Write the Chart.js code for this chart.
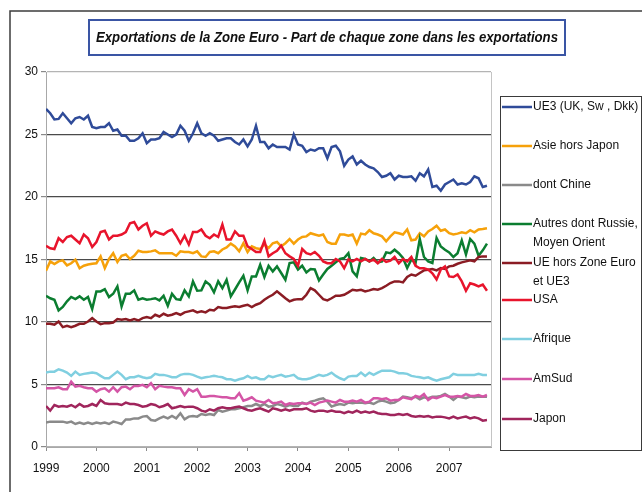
<!DOCTYPE html>
<html><head><meta charset="utf-8">
<script src="https://cdn.jsdelivr.net/npm/chart.js@4"></script>
<style>html,body{margin:0;padding:0;background:#fff}canvas{display:block}</style>
</head><body>
<canvas id="c" width="642" height="492"></canvas>
<script>
const chartTitle = "Exportations de la Zone Euro - Part de chaque zone dans les exportations";
const seriesNames = ["UE3 (UK, Sw , Dkk)", "Asie hors Japon", "dont Chine", "Autres dont Russie, Moyen Orient", "UE hors Zone Euro et UE3", "USA", "Afrique", "AmSud", "Japon"];
const legendLines = [["UE3 (UK, Sw , Dkk)"], ["Asie hors Japon"], ["dont Chine"], ["Autres dont Russie,", "Moyen Orient"], ["UE hors Zone Euro", "et UE3"], ["USA"], ["Afrique"], ["AmSud"], ["Japon"]];
const seriesColors = ["#2f4b99", "#f6a10a", "#8a8a8a", "#0b7d30", "#8b1c24", "#e8142c", "#80cfe0", "#d455a6", "#a0255c"];
const startYear = 1999;           // first monthly observation: January 1999
const yearTicks = [1999, 2000, 2001, 2002, 2003, 2004, 2005, 2006, 2007];
const yTicks = [0, 5, 10, 15, 20, 25, 30];

const ue3 = [27.05,26.7,26.2,26.25,26.7,26.3,25.9,26.3,26.4,26.2, 26.5,25.6,25.5,25.6,25.6,25.9,25.3,25.4,24.9,24.9,
 24.5,24.5,24.7,25.1,24.3,24.6,24.6,24.7,25.2,25.0, 24.8,25.0,25.7,25.3,24.5,25.1,25.9,25.1,24.9,25.1,
 24.9,24.5,24.6,24.7,24.7,24.4,
 24.2,24.6,24.05,24.6,25.7,24.4,24.4,23.9,24.2,24.0, 24.0,24.0,23.8,25.0,24.2,24.1,23.6,23.8,23.7,23.9,
 23.9,23.1,24.0,24.1,23.65,22.5,23.0,23.25,22.6,22.9, 22.6,22.4,22.3,22.0,21.6,21.7,21.9,21.4,21.7,21.6,
 21.6,21.65,21.3,21.9,21.65,22.2,20.8,20.9,20.5,21.0, 21.2,21.4,21.0,21.1,21.0,21.2,21.65,21.5,20.8,20.9];
const asie = [14.1,14.85,14.64,14.85,14.93,14.53,14.7,14.98,14.3,14.5, 14.6,14.66,14.7,15.25,14.3,15.04,15.5,14.8,15.3,15.4,
 15.04,15.3,15.7,15.6,15.6,15.65,15.73,15.5,15.5,15.5, 15.5,15.3,15.65,15.6,15.6,15.5,15.65,15.25,15.2,15.6,
 15.65,15.5,15.8,15.97,16.27,16.05,15.65,16.3,15.6,16.05, 15.9,
 15.84,16.2,15.92,16.3,16.4,16.05,16.3,16.64,16.27,16.6, 16.8,16.85,17.1,17.0,16.9,17.0,16.4,16.27,16.27,17.0,
 17.0,16.9,17.0,16.27,17.07,17.0,17.34,17.1,17.0,16.85, 16.45,16.85,17.17,17.1,17.0,17.4,16.54,16.6,17.1,16.85,
 17.25,17.44,17.7,17.3,17.4,17.1,17.0,17.07,17.17,17.1, 17.34,17.17,17.4,17.44,17.5];
const chine = [1.95,2.03,2.03,2.03,2.03,1.95,2.03,1.84,1.95,1.84, 1.95,1.84,1.95,1.89,1.95,1.84,2.03,1.95,1.84,2.21,
 2.21,2.29,2.29,2.43,2.48,2.16,2.11,2.29,2.43,2.29, 2.48,2.29,2.7,2.21,2.43,2.48,2.43,2.64,2.56,2.64,
 2.56,2.96,2.83,2.91,3.02,3.02,3.1,3.18,3.28,3.28, 3.44,
 3.28,3.44,3.23,3.28,3.44,3.36,3.23,3.36,3.28,3.28, 3.55,3.44,3.63,3.71,3.82,3.9,3.63,3.23,3.36,3.44,
 3.36,3.55,3.5,3.55,3.55,3.5,3.55,3.44,3.63,3.71, 3.63,3.5,3.55,3.76,4.03,3.98,3.9,4.03,3.82,3.98,
 3.9,4.03,4.03,4.08,4.24,4.03,3.76,4.03,3.98,3.9, 4.03,3.98,4.03,4.03,4.03];
const autres = [12.1,11.9,11.78,10.93,11.2,11.65,12.0,11.83,12.05,11.78, 12.0,11.03,12.45,12.45,12.63,12.0,12.26,12.85,11.25,12.26,
 12.26,12.53,11.78,11.9,11.78,11.83,11.9,11.73,12.1,11.3, 12.26,11.83,11.78,12.53,12.05,13.25,12.5,12.53,13.25,12.98,
 12.37,13.25,12.7,13.38,12.05,12.6,13.17,13.7,12.53,13.65, 13.65,
 14.58,13.6,14.5,14.05,14.45,13.92,13.38,14.72,14.77,14.2, 14.5,13.97,14.24,14.2,13.33,13.8,14.24,14.5,14.77,15.04,
 15.12,15.5,14.05,13.65,15.12,15.04,14.85,15.12,14.77,14.85, 15.57,15.5,15.78,15.5,15.12,14.32,15.0,14.72,16.64,15.2,
 14.85,14.72,16.72,16.05,15.78,15.57,15.2,15.5,16.53,15.4, 16.64,16.27,15.3,15.73,16.27];
const ueHors = [9.86,9.86,9.78,10.04,9.59,9.7,9.59,9.7,9.86,9.86, 10.04,10.31,10.04,9.83,9.91,9.91,9.96,10.23,10.18,10.23,
 10.12,10.23,10.12,10.31,10.39,10.31,10.58,10.44,10.66,10.5, 10.58,10.71,10.58,10.77,10.85,10.93,10.77,10.85,10.77,10.98,
 10.93,11.2,11.12,11.12,11.2,11.25,11.2,11.3,11.38,11.2, 11.38,
 11.5,11.78,12.0,12.18,12.45,12.18,11.9,11.65,11.78,11.83, 11.83,12.18,12.71,12.53,12.18,11.83,11.73,11.9,12.1,12.1,
 12.18,12.37,12.58,12.53,12.58,12.45,12.53,12.63,12.58,12.71, 12.9,13.12,13.25,13.25,13.17,13.6,13.8,13.7,13.92,14.13,
 14.18,14.24,14.13,14.32,14.24,14.45,14.5,14.66,14.77,14.85, 14.93,14.85,15.2,15.25,15.25];
const usa = [16.1,15.9,15.84,16.7,16.4,16.8,16.9,16.6,16.3,17.0, 16.7,16.0,16.4,17.2,17.3,16.6,16.9,16.9,17.0,17.2,
 17.9,18.0,17.4,17.7,17.9,16.9,17.25,17.1,17.0,17.25, 17.4,16.9,16.3,16.9,16.2,17.2,17.2,17.4,16.9,16.7,
 17.0,16.8,17.8,16.6,16.6,17.25,16.9,16.9,16.05,15.84, 15.6,
 15.6,16.5,15.25,15.5,15.7,16.1,15.5,15.25,15.04,14.5, 15.84,15.5,15.4,15.6,15.3,14.85,14.7,14.7,15.04,14.85,
 14.3,15.0,14.85,15.04,14.85,15.04,14.85,15.0,14.7,15.04, 14.8,14.9,15.2,14.7,15.04,14.85,15.2,14.5,14.3,14.3,
 14.2,13.9,13.4,14.2,14.45,13.65,13.6,13.8,13.25,12.5, 13.1,13.0,12.85,13.0,12.5];
const afrique = [5.95,6.03,6.03,6.22,6.11,5.95,5.69,6.03,5.77,5.85, 5.9,5.95,5.9,5.69,5.5,5.5,5.77,6.03,5.77,5.42,
 5.58,5.58,5.69,5.58,5.5,5.58,5.85,5.77,5.77,5.69, 5.58,5.58,5.77,5.85,5.85,5.77,5.63,5.5,5.58,5.63,
 5.69,5.63,5.58,5.42,5.42,5.31,5.42,5.5,5.69,5.5, 5.58,
 5.42,5.42,5.69,5.58,5.69,5.77,5.63,5.69,5.77,5.5, 5.42,5.42,5.5,5.63,5.77,5.69,5.77,5.95,5.69,5.5,
 5.37,5.63,5.69,5.69,5.95,5.69,5.95,5.77,5.95,6.11, 6.11,6.11,6.03,5.9,5.9,5.85,5.69,5.63,5.58,5.5,
 5.58,5.42,5.31,5.42,5.5,5.58,5.85,5.77,5.77,5.77, 5.77,5.77,5.85,5.77,5.77];
const amSud = [4.7,4.7,4.7,4.78,4.62,4.62,5.23,4.83,4.89,4.78, 4.7,4.7,4.43,4.62,4.7,4.43,4.78,4.43,4.78,4.83,
 4.62,4.89,4.89,4.97,4.78,5.1,4.62,4.89,4.83,4.78, 4.78,4.7,4.7,4.16,4.62,4.43,4.62,4.03,4.03,4.08,
 4.08,4.03,3.98,3.98,3.9,3.9,4.3,3.71,3.82,3.98, 3.71,
 3.63,3.55,3.76,3.5,3.55,3.63,3.36,3.5,3.44,3.5, 3.5,3.44,3.55,3.36,3.55,3.63,3.71,3.63,3.55,3.76,
 3.63,3.63,3.71,3.63,3.76,3.55,3.63,3.9,3.9,3.82, 3.9,3.71,3.76,3.76,3.98,3.9,3.82,4.08,3.98,4.24,
 3.76,3.98,3.9,4.03,4.16,4.03,4.03,4.08,4.03,4.24, 4.08,4.08,4.16,4.03,4.16];
const japon = [3.28,2.91,3.36,3.23,3.28,3.23,3.36,3.18,3.44,3.23, 3.28,3.44,3.28,3.76,3.5,3.44,3.44,3.44,3.36,3.55,
 3.44,3.44,3.36,3.23,3.28,3.44,3.36,3.18,3.28,3.44, 3.1,3.18,3.28,3.18,3.23,3.23,3.1,2.91,2.83,3.02,
 2.91,3.1,3.18,3.1,3.1,3.18,3.23,3.1,2.96,2.91, 3.02,
 3.1,2.96,2.83,3.1,3.02,2.91,3.02,2.91,3.02,3.02, 3.02,3.1,2.91,2.83,2.91,2.91,2.83,2.91,2.83,2.83,
 2.7,2.83,2.75,2.91,2.75,2.83,2.75,2.83,2.7,2.64, 2.64,2.56,2.56,2.64,2.56,2.64,2.48,2.43,2.48,2.43,
 2.48,2.37,2.43,2.43,2.37,2.29,2.43,2.29,2.37,2.43, 2.29,2.37,2.29,2.11,2.16];

const seriesValues = [ue3, asie, chine, autres, ueHors, usa, afrique, amSud, japon];
const FONT = '"Liberation Sans", Arial, sans-serif';

const decorPlugin = {
  id: 'decor',
  beforeDraw(chart) {
    const ctx = chart.ctx;
    ctx.save();
    ctx.fillStyle = '#fff';
    ctx.fillRect(0, 0, chart.width, chart.height);
    ctx.strokeStyle = '#3c3c3c';
    ctx.lineWidth = 1.5;
    ctx.beginPath();
    ctx.moveTo(10, chart.height + 5);
    ctx.lineTo(10, 11);
    ctx.lineTo(chart.width + 5, 11);
    ctx.stroke();
    ctx.restore();
  },
  afterDatasetsDraw(chart) {
    const ctx = chart.ctx, a = chart.chartArea;
    ctx.save();
    ctx.strokeStyle = '#c4c4c4';
    ctx.lineWidth = 1;
    ctx.beginPath();
    ctx.moveTo(Math.round(a.right) + 0.5, a.top);
    ctx.lineTo(Math.round(a.right) + 0.5, a.bottom);
    ctx.stroke();
    ctx.restore();
  },
  afterDraw(chart) {
    const ctx = chart.ctx;
    ctx.save();
    ctx.strokeStyle = '#3a55a4';
    ctx.lineWidth = 2;
    ctx.strokeRect(89, 20, 476, 35);
    ctx.fillStyle = '#111';
    ctx.font = 'italic bold 14px ' + FONT;
    ctx.textAlign = 'center';
    ctx.textBaseline = 'middle';
    ctx.fillText(chartTitle, 327, 38, 462);
    ctx.strokeStyle = '#3a3a3a';
    ctx.lineWidth = 1;
    ctx.strokeRect(500.5, 96.5, 141, 354);
    const itemY = [107, 146, 185, 224, 263, 300, 339, 379, 419];
    ctx.font = '12px ' + FONT;
    ctx.textAlign = 'left';
    legendLines.forEach((lines, k) => {
      const y = itemY[k];
      ctx.strokeStyle = seriesColors[k];
      ctx.lineWidth = 2.5;
      ctx.beginPath();
      ctx.moveTo(502, y);
      ctx.lineTo(532, y);
      ctx.stroke();
      ctx.fillStyle = '#111';
      lines.forEach((t, j) => ctx.fillText(t, 533, y + j * 18.5));
    });
    ctx.restore();
  }
};

new Chart(document.getElementById('c'), {
  type: 'line',
  data: {
    datasets: seriesNames.map((name, k) => ({
      label: name,
      data: seriesValues[k].map((v, i) => ({ x: startYear + i / 12, y: v })),
      borderColor: seriesColors[k],
      backgroundColor: seriesColors[k],
      borderWidth: 2.5,
      pointRadius: 0,
      tension: 0,
      fill: false,
      order: seriesNames.length - k
    }))
  },
  options: {
    responsive: false,
    animation: false,
    events: [],
    layout: { padding: { left: 0, top: 72, right: 151, bottom: 15 } },
    plugins: { legend: { display: false }, tooltip: { enabled: false }, title: { display: false } },
    scales: {
      x: {
        type: 'linear',
        min: 1999,
        max: 2007.83,
        afterBuildTicks: s => { s.ticks = yearTicks.map(v => ({ value: v })); },
        afterFit: s => { s.height = 30; },
        ticks: { callback: v => String(v), font: { family: FONT, size: 12 }, color: '#111', padding: 10, maxRotation: 0, autoSkip: false },
        grid: { drawOnChartArea: false, drawTicks: true, tickLength: 4, tickColor: '#8a8a8a' },
        border: { display: true, color: '#a8a8a8', width: 1 }
      },
      y: {
        min: 0,
        max: 30,
        afterBuildTicks: s => { s.ticks = yTicks.map(v => ({ value: v })); },
        afterFit: s => { s.width = 46; },
        ticks: { font: { family: FONT, size: 12 }, color: '#111', padding: 3 },
        grid: {
          color: c => (c.tick && (c.tick.value === 30 || c.tick.value === 0)) ? '#b4b4b4' : '#4a4a4a',
          lineWidth: 1.2,
          drawTicks: true,
          tickLength: 5,
          tickColor: '#8a8a8a'
        },
        border: { display: true, color: '#a8a8a8', width: 1 }
      }
    }
  },
  plugins: [decorPlugin]
});
</script>
</body></html>
